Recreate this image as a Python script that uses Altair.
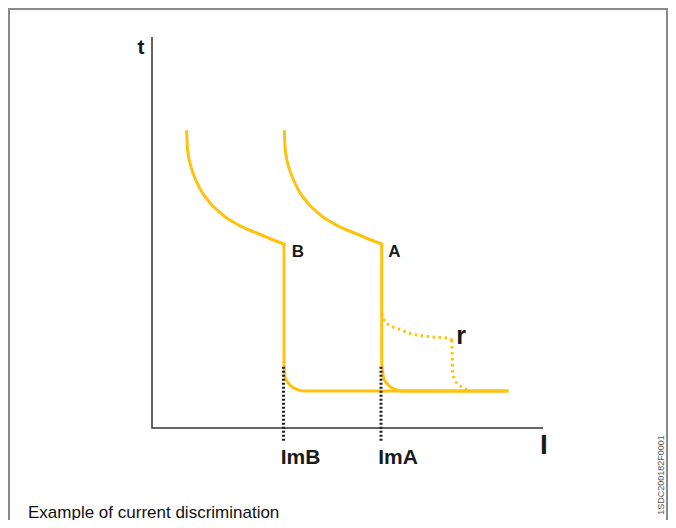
import altair as alt
import pandas as pd

# ---- data (I = current, t = time; arbitrary units, origin at axes crossing) ----
# curve B: inverse-time part, then instantaneous trip (vertical), then knee + flat tail
b_curve_I = [3.47, 3.49, 3.53, 3.63, 3.80, 4.03, 4.30, 4.63, 4.97, 5.47, 5.97, 6.63, 7.30,
             8.13, 8.97, 9.97, 10.97, 12.13, 13.20]
b_curve_t = [29.63, 28.97, 28.13, 27.30, 26.47, 25.70, 24.97, 24.27, 23.63, 22.93, 22.30, 21.70,
             21.13, 20.60, 20.13, 19.70, 19.30, 18.80, 18.40]
b_drop_I = [13.20, 13.20]
b_drop_t = [18.40, 6.50]
b_tail_I = [13.20, 13.30, 13.55, 13.80, 14.10, 14.47, 15.13, 35.50]
b_tail_t = [6.50, 5.13, 4.60, 4.30, 4.05, 3.87, 3.70, 3.70]

# curve A
a_curve_I = [13.24, 13.26, 13.30, 13.40, 13.57, 13.80, 14.07, 14.40, 14.74, 15.24, 15.74, 16.40,
             17.07, 17.90, 18.74, 19.74, 20.74, 21.90, 22.97]
a_curve_t = [29.63, 28.97, 28.13, 27.30, 26.47, 25.70, 24.97, 24.27, 23.63, 22.93, 22.30, 21.70,
             21.13, 20.60, 20.13, 19.70, 19.30, 18.80, 18.40]
a_drop_I = [22.97, 22.97]
a_drop_t = [18.40, 6.50]
a_tail_I = [22.97, 23.13, 23.38, 23.63, 23.93, 24.30, 24.90, 35.50]
a_tail_t = [6.50, 5.13, 4.60, 4.30, 4.05, 3.87, 3.70, 3.70]

# dotted curve r
r_upper_I = [22.97, 23.30, 23.80, 24.47, 25.80, 27.80, 29.80, 29.97]
r_upper_t = [11.50, 10.63, 10.25, 9.97, 9.47, 9.13, 8.97, 8.80]
r_lower_I = [29.97, 30.07, 30.20, 30.47, 31.13, 31.63]
r_lower_t = [8.80, 5.50, 5.00, 4.47, 3.97, 3.80]

imb_I = [13.15, 13.15]
imb_t = [6.13, -1.37]
ima_I = [22.90, 22.90]
ima_t = [6.13, -1.37]

axis_I = [0.0, 0.0, 39.1]
axis_t = [39.1, 0.0, 0.0]

curve_labels = ["B", "A"]
curve_label_I = [14.6, 24.25]
curve_label_t = [17.6, 17.6]

im_labels = ["ImB", "ImA"]
im_label_I = [14.85, 24.6]
im_label_t = [-2.95, -2.95]

r_label = ["r"]
r_label_I = [30.9]
r_label_t = [9.2]

t_label = ["t"]
t_label_I = [-1.1]
t_label_t = [38.0]

i_label = ["I"]
i_label_I = [39.2]
i_label_t = [-1.8]

caption = ["Example of current discrimination"]
caption_I = [-12.4]
caption_t = [-8.95]

code = ["1SDC200182F0001"]
code_I = [50.9]
code_t = [-4.7]


def lines(name, xs, ys):
    return pd.DataFrame({"series": name, "i": range(len(xs)), "I": xs, "t": ys})


smooth = pd.concat([lines("Bc", b_curve_I, b_curve_t), lines("Ac", a_curve_I, a_curve_t),
                    lines("Bt", b_tail_I, b_tail_t), lines("At", a_tail_I, a_tail_t)])
drops = pd.concat([lines("Bd", b_drop_I, b_drop_t), lines("Ad", a_drop_I, a_drop_t)])
r_smooth = pd.concat([lines("ru", r_upper_I, r_upper_t)])
r_drop = pd.concat([lines("rl", r_lower_I, r_lower_t)])
marks = pd.concat([lines("ImB", imb_I, imb_t), lines("ImA", ima_I, ima_t)])
axes = lines("axes", axis_I, axis_t)

W, H = 660, 512
xs = alt.Scale(domain=[-14.4, 51.6], nice=False, zero=False)
ys = alt.Scale(domain=[-9.2, 42.0], nice=False, zero=False)
X = alt.X("I:Q", scale=xs, axis=None)
Y = alt.Y("t:Q", scale=ys, axis=None)

YEL = "#FFC20E"
FONT = "Liberation Sans"


def text_layer(labels, xv, yv, **kw):
    df = pd.DataFrame({"label": labels, "I": xv, "t": yv})
    return alt.Chart(df).mark_text(font=FONT, **kw).encode(x=X, y=Y, text="label:N")


base_frame = alt.Chart(pd.DataFrame({"k": [0]}))
frame = alt.layer(
    base_frame.mark_rule(color="#8a8a8a", strokeWidth=2).encode(
        x=alt.value(1), y=alt.value(0), y2=alt.value(H)),
    base_frame.mark_rule(color="#8a8a8a", strokeWidth=2).encode(
        x=alt.value(0), x2=alt.value(659), y=alt.value(1)),
    base_frame.mark_rule(color="#8a8a8a", strokeWidth=2).encode(
        x=alt.value(659), y=alt.value(0), y2=alt.value(H)),
)

axes_layer = alt.Chart(axes).mark_line(color="#333333", strokeWidth=1.5).encode(
    x=X, y=Y, order="i:Q")

smooth_layer = alt.Chart(smooth).mark_line(
    color=YEL, strokeWidth=3, interpolate="monotone", strokeCap="square").encode(
    x=X, y=Y, detail="series:N", order="i:Q")

drop_layer = alt.Chart(drops).mark_line(color=YEL, strokeWidth=3).encode(
    x=X, y=Y, detail="series:N", order="i:Q")

r_layer1 = alt.Chart(r_smooth).mark_line(
    color=YEL, strokeWidth=3, strokeDash=[2.5, 3.5], interpolate="monotone").encode(
    x=X, y=Y, order="i:Q")
r_layer2 = alt.Chart(r_drop).mark_line(
    color=YEL, strokeWidth=3, strokeDash=[2.5, 3.5]).encode(
    x=X, y=Y, order="i:Q")

mark_layer = alt.Chart(marks).mark_line(color="#222222", strokeWidth=3, strokeDash=[2, 2]).encode(
    x=X, y=Y, detail="series:N", order="i:Q")

chart = alt.layer(
    frame,
    axes_layer,
    smooth_layer,
    drop_layer,
    r_layer1,
    r_layer2,
    mark_layer,
    text_layer(curve_labels, curve_label_I, curve_label_t, fontSize=17, fontWeight="bold",
               color="#1a1a1a", baseline="middle", align="center"),
    text_layer(im_labels, im_label_I, im_label_t, fontSize=21, fontWeight="bold",
               color="#1a1a1a", baseline="middle", align="center"),
    text_layer(r_label, r_label_I, r_label_t, fontSize=25, fontWeight="bold",
               color="#1a1a1a", baseline="middle", align="center"),
    text_layer(t_label, t_label_I, t_label_t, fontSize=21, fontWeight="bold",
               color="#1a1a1a", baseline="middle", align="center"),
    text_layer(i_label, i_label_I, i_label_t, fontSize=28, fontWeight="bold",
               color="#1a1a1a", baseline="middle", align="center"),
    text_layer(caption, caption_I, caption_t, fontSize=17, color="#111111",
               baseline="alphabetic", align="left"),
    text_layer(code, code_I, code_t, fontSize=9, color="#555555", angle=270,
               baseline="middle", align="center"),
).properties(
    width=W, height=H, padding=0, autosize=alt.AutoSizeParams(type="none")
).configure_view(stroke=None)

chart.save("out.html", embed_options={"renderer": "svg", "actions": False})
